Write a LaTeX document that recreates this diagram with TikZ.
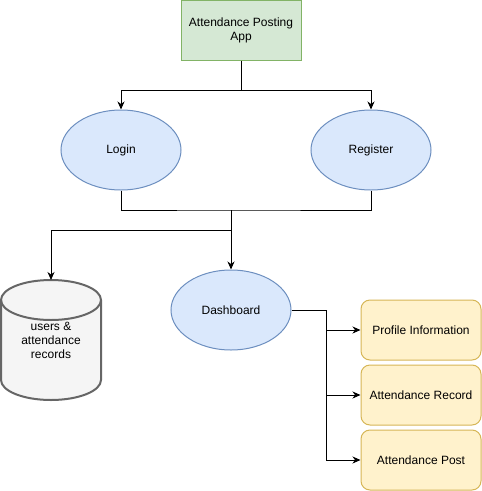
\documentclass[tikz,border=0pt]{standalone}
\usepackage{fontspec}
\setmainfont{Liberation Sans}
\usetikzlibrary{arrows.meta,shapes.geometric}
\definecolor{appfill}{HTML}{D5E8D4}\definecolor{appline}{HTML}{82B366}
\definecolor{ovalfill}{HTML}{DAE8FC}\definecolor{ovalline}{HTML}{6C8EBF}
\definecolor{itemfill}{HTML}{FFF2CC}\definecolor{itemline}{HTML}{D6B656}
\definecolor{dbfill}{HTML}{F5F5F5}\definecolor{dbline}{HTML}{666666}
\begin{document}
\begin{tikzpicture}[x=1pt, y=-1pt, line width=1pt, every node/.style={font=\fontsize{12}{14}\selectfont, align=center}, >={Stealth[length=8pt, width=7pt, inset=2.5pt]},
	app/.style={draw=appline, fill=appfill, minimum width=120pt, minimum height=60pt},
	oval/.style={draw=ovalline, fill=ovalfill, ellipse, minimum width=120pt, minimum height=80pt},
	item/.style={draw=itemline, fill=itemfill, rounded corners=9pt, minimum width=120pt, minimum height=60pt},
	store/.style={draw=dbline, fill=dbfill, line width=2pt}]
	\useasboundingbox (0,0) rectangle (482,491);
	% top part
	\node[app] (app) at (241,30) {Attendance Posting\\App};
	\node[oval] (login) at (121,150) {Login}; \node[oval] (reg) at (371,150) {Register};
	\coordinate (split) at (241,90); \coordinate (merge) at (231,210); \coordinate (dbsplit) at (231,230);
	\draw[->] (app) -- (split) -| (login);
	\draw[->] (split) -| (reg);
	\draw (login) |- (merge) -| (reg);
	% store (cylinder)
	\path[store] (1,300) -- (1,380) arc[start angle=180, end angle=0, x radius=50, y radius=20] -- (101,300) arc[start angle=0, end angle=-180, x radius=50, y radius=20] -- cycle;
	\draw[dbline, line width=2pt] (1,300) arc[start angle=180, end angle=0, x radius=50, y radius=20];
	\coordinate (dbtop) at (51,280);
	\node (db) at (51,340) {users \&\\attendance\\records};
	% dashboard
	\node[oval] (dash) at (231,310) {Dashboard};
	\draw[->] (merge) -- (dash);
	\draw[->] (dbsplit) -| (dbtop);
	% menu
	\node[item] (prof) at (421,330) {Profile Information};
	\node[item] (rec) at (421,395) {Attendance Record};
	\node[item] (post) at (421,460) {Attendance Post};
	\coordinate (trunk) at (326,310);
	\draw[->] (dash) -- (trunk) |- (prof);
	\draw[->] (trunk) |- (rec);
	\draw[->] (trunk) |- (post);
\end{tikzpicture}
\end{document}
